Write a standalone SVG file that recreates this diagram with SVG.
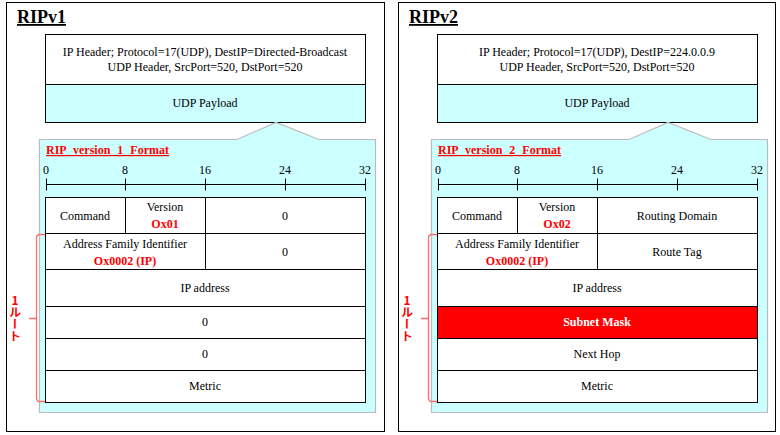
<svg xmlns="http://www.w3.org/2000/svg" width="780" height="435" viewBox="0 0 780 435">
<style>
.t{font-family:"Liberation Serif","Times New Roman",serif;font-size:12px;text-anchor:middle;fill:#000}
.r{fill:#f00;font-weight:bold}
.w{fill:#fff;font-weight:bold}
.ttl{font-family:"Liberation Serif",serif;font-size:18px;font-weight:bold;text-decoration:underline;fill:#000}
.fmt{font-family:"Liberation Serif",serif;font-size:12px;font-weight:bold;text-decoration:underline;fill:#f00;word-spacing:4px}
.box{fill:#fff;stroke:#000;stroke-width:1}
.cy{fill:#ccffff;stroke:#000;stroke-width:1}
.pan{fill:#ccffff;stroke:#bbbbbb;stroke-width:1.2}
.frame{fill:#fff;stroke:#000;stroke-width:1}
.ln{stroke:#000;stroke-width:1;fill:none}
.br{stroke:#ff6a6a;stroke-width:1.3;fill:none}
.rt{font-family:"Noto Sans CJK JP","Liberation Sans",sans-serif;font-size:12px;font-weight:bold;fill:#f00;writing-mode:vertical-rl;text-orientation:upright}
</style>
<defs>
<g id="scale">
<path class="ln" d="M46.5,184.5H365.5M46.5,178.5V190.5M125.5,178.5V190.5M205.5,178.5V190.5M285.5,178.5V190.5M365.5,178.5V190.5"/>
<text class="t" x="46" y="174">0</text>
<text class="t" x="125" y="174">8</text>
<text class="t" x="205" y="174">16</text>
<text class="t" x="285" y="174">24</text>
<text class="t" x="365" y="174">32</text>
</g>
</defs>

<g id="ripv1">
<rect class="frame" x="6.5" y="2.5" width="378" height="429"/>
<text class="ttl" x="17" y="23">RIPv1</text>
<g id="v1-header">
<rect class="box" x="45.5" y="34.5" width="320" height="50"/>
<text class="t" x="205" y="56">IP Header; Protocol=17(UDP), DestIP=Directed-Broadcast</text>
<text class="t" x="205" y="71">UDP Header, SrcPort=520, DstPort=520</text>
</g>
<g id="v1-payload">
<rect class="cy" x="45.5" y="84.5" width="320" height="38"/>
<text class="t" x="205" y="107">UDP Payload</text>
</g>
<g id="v1-format">
<path class="pan" d="M39.5,139.5H237L276,122.5L319,139.5H375.5V412.5H39.5Z"/>
<text class="fmt" x="46" y="154">RIP version 1 Format</text>
<use href="#scale"/>
<g id="v1-table">
<rect class="box" x="45.5" y="197.5" width="320" height="205"/>
<path class="ln" d="M45.5,233.5H365.5M45.5,269.5H365.5M45.5,306.5H365.5M45.5,338.5H365.5M45.5,370.5H365.5M125.5,197.5V233.5M205.5,197.5V269.5"/>
<text class="t" x="85" y="220">Command</text>
<text class="t" x="165" y="211">Version</text>
<text class="t r" x="165" y="228">Ox01</text>
<text class="t" x="285" y="220">0</text>
<text class="t" x="125" y="248">Address Family Identifier</text>
<text class="t r" x="125" y="265">Ox0002 (IP)</text>
<text class="t" x="285" y="256">0</text>
<text class="t" x="205" y="292">IP address</text>
<text class="t" x="205" y="326">0</text>
<text class="t" x="205" y="358">0</text>
<text class="t" x="205" y="390">Metric</text>
</g>
</g>
</g>

<g id="ripv2">
<rect class="frame" x="398.5" y="2.5" width="377" height="429"/>
<text class="ttl" x="409" y="23">RIPv2</text>
<g id="v2-header">
<rect class="box" x="437.5" y="34.5" width="320" height="50"/>
<text class="t" x="597" y="56">IP Header; Protocol=17(UDP), DestIP=224.0.0.9</text>
<text class="t" x="597" y="71">UDP Header, SrcPort=520, DstPort=520</text>
</g>
<g id="v2-payload">
<rect class="cy" x="437.5" y="84.5" width="320" height="38"/>
<text class="t" x="597" y="107">UDP Payload</text>
</g>
<g id="v2-format">
<path class="pan" d="M431.5,139.5H629L668,122.5L711,139.5H767.5V412.5H431.5Z"/>
<text class="fmt" x="438" y="154">RIP version 2 Format</text>
<use href="#scale" x="392"/>
<g id="v2-table">
<rect class="box" x="437.5" y="197.5" width="320" height="205"/>
<rect x="437.5" y="306.5" width="320" height="32" fill="#f00" stroke="#000"/>
<path class="ln" d="M437.5,233.5H757.5M437.5,269.5H757.5M437.5,306.5H757.5M437.5,338.5H757.5M437.5,370.5H757.5M517.5,197.5V233.5M597.5,197.5V269.5"/>
<text class="t" x="477" y="220">Command</text>
<text class="t" x="557" y="211">Version</text>
<text class="t r" x="557" y="228">Ox02</text>
<text class="t" x="677" y="220">Routing Domain</text>
<text class="t" x="517" y="248">Address Family Identifier</text>
<text class="t r" x="517" y="265">Ox0002 (IP)</text>
<text class="t" x="677" y="256">Route Tag</text>
<text class="t" x="597" y="292">IP address</text>
<text class="t w" x="597" y="326">Subnet Mask</text>
<text class="t" x="597" y="358">Next Hop</text>
<text class="t" x="597" y="390">Metric</text>
</g>
</g>
</g>

<g id="connectors">
<path class="br" d="M45,234.5H40Q36.5,234.5 36.5,238V398Q36.5,401.5 40,401.5H45M36.5,318.5H29"/>
<path class="br" d="M437,234.5H432Q428.5,234.5 428.5,238V398Q428.5,401.5 432,401.5H437M428.5,318.5H421"/>
</g>
<g id="labels">
<text class="rt" x="15" y="294">1ルート</text>
<text class="rt" x="407" y="294">1ルート</text>
</g>
</svg>
